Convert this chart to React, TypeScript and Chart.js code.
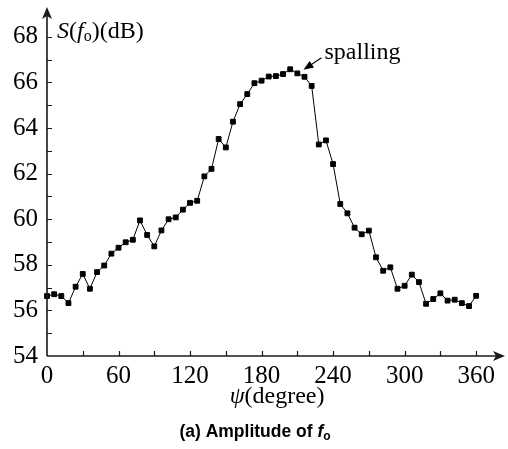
import React, { useEffect, useRef } from "react";
import { Chart, registerables } from "chart.js";

Chart.register(...registerables);

// ---- data ----
const angles = [
  0, 6, 12, 18, 24, 30, 36, 42, 48, 54, 60, 66, 72, 78, 84, 90, 96, 102, 108, 114,
  120, 126, 132, 138, 144, 150, 156, 162, 168, 174, 180, 186, 192, 198, 204, 210,
  216, 222, 228, 234, 240, 246, 252, 258, 264, 270, 276, 282, 288, 294, 300, 306,
  312, 318, 324, 330, 336, 342, 348, 354, 360,
];
const amplitude = [
  56.63, 56.71, 56.63, 56.32, 57.04, 57.6, 56.95, 57.68, 57.97, 58.49, 58.75, 58.99,
  59.1, 59.95, 59.31, 58.81, 59.51, 60.0, 60.08, 60.42, 60.72, 60.81, 61.88, 62.21,
  63.52, 63.15, 64.28, 65.05, 65.49, 65.97, 66.08, 66.26, 66.28, 66.37, 66.58, 66.4,
  66.25, 65.85, 63.28, 63.46, 62.42, 60.67, 60.26, 59.63, 59.34, 59.5, 58.33, 57.74,
  57.89, 56.95, 57.08, 57.57, 57.24, 56.29, 56.5, 56.75, 56.43, 56.47, 56.32, 56.19,
  56.64,
];
const xTickValues = [0, 60, 120, 180, 240, 300, 360];
const xMinorTicks = [30, 90, 150, 210, 270, 330];
const yTickValues = [54, 56, 58, 60, 62, 64, 66, 68];
const yMinorTicks = [55, 57, 59, 61, 63, 65, 67];
const annotationAngle = 216;
const annotationValue = 66.25;
const annotationText = "spalling";

const SERIF = "Liberation Serif";
const SANS = "Liberation Sans";

Chart.defaults.font.family = SERIF;

type Run = { text: string; font: string; dy?: number };

function drawRuns(ctx: CanvasRenderingContext2D, runs: Run[], x: number, y: number, align: "left" | "center") {
  let total = 0;
  for (const r of runs) {
    ctx.font = r.font;
    total += ctx.measureText(r.text).width;
  }
  let cx = align === "center" ? x - total / 2 : x;
  ctx.textBaseline = "alphabetic";
  ctx.textAlign = "left";
  for (const r of runs) {
    ctx.font = r.font;
    ctx.fillText(r.text, cx, y + (r.dy || 0));
    cx += ctx.measureText(r.text).width;
  }
}

const decorPlugin = {
  id: "decor",
  afterDraw(chart: any) {
    const ctx: CanvasRenderingContext2D = chart.ctx;
    const xs = chart.scales.x;
    const ys = chart.scales.y;
    const left = xs.getPixelForValue(0);
    const bottom = ys.getPixelForValue(54);
    const top = chart.chartArea.top;
    const right = chart.chartArea.right;
    ctx.save();
    const axisColor = "#1a1a1a";
    ctx.strokeStyle = axisColor;
    ctx.fillStyle = axisColor;
    ctx.lineWidth = 1.6;
    ctx.beginPath();
    ctx.moveTo(left, bottom);
    ctx.lineTo(left, top + 6);
    ctx.moveTo(left, bottom);
    ctx.lineTo(right - 2, bottom);
    ctx.stroke();
    ctx.beginPath();
    ctx.moveTo(left, top - 3);
    ctx.lineTo(left - 5, top + 9);
    ctx.lineTo(left, top + 6);
    ctx.lineTo(left + 5, top + 9);
    ctx.closePath();
    ctx.fill();
    ctx.beginPath();
    ctx.moveTo(right + 5, bottom);
    ctx.lineTo(right - 7, bottom - 5);
    ctx.lineTo(right - 4, bottom);
    ctx.lineTo(right - 7, bottom + 5);
    ctx.closePath();
    ctx.fill();
    ctx.lineWidth = 1.2;
    ctx.beginPath();
    for (const v of [...yTickValues, ...yMinorTicks]) {
      if (v === 54) continue;
      const p = Math.round(ys.getPixelForValue(v)) + 0.5;
      ctx.moveTo(left, p);
      ctx.lineTo(left + 5, p);
    }
    for (const v of [...xTickValues, ...xMinorTicks]) {
      if (v === 0) continue;
      const p = Math.round(xs.getPixelForValue(v)) + 0.5;
      ctx.moveTo(p, bottom);
      ctx.lineTo(p, bottom - 5);
    }
    ctx.stroke();

    ctx.fillStyle = "#000";
    const y68 = ys.getPixelForValue(68);
    drawRuns(
      ctx,
      [
        { text: "S", font: `italic 24px ${SERIF}` },
        { text: "(", font: `24px ${SERIF}` },
        { text: "f", font: `italic 24px ${SERIF}` },
        { text: "o", font: `16px ${SERIF}`, dy: 3 },
        { text: ")(dB)", font: `24px ${SERIF}` },
      ],
      left + 10,
      y68 + 1,
      "left"
    );
    drawRuns(
      ctx,
      [
        { text: "ψ", font: `italic 24px ${SERIF}` },
        { text: "(degree)", font: `24px ${SERIF}` },
      ],
      xs.getPixelForValue(193),
      403,
      "center"
    );
    drawRuns(
      ctx,
      [
        { text: "(a) Amplitude of ", font: `bold 17.5px ${SANS}` },
        { text: "f", font: `italic bold 17.5px ${SANS}` },
        { text: "o", font: `bold 12px ${SANS}`, dy: 3 },
      ],
      255,
      437,
      "center"
    );

    const px = xs.getPixelForValue(annotationAngle);
    const py = ys.getPixelForValue(annotationValue);
    const tipX = px - 1;
    const tipY = py - 7;
    const tailX = tipX + 18;
    const tailY = tipY - 12;
    ctx.strokeStyle = "#000";
    ctx.fillStyle = "#000";
    ctx.lineWidth = 1.2;
    ctx.beginPath();
    ctx.moveTo(tailX, tailY);
    ctx.lineTo(tipX + 6, tipY - 4);
    ctx.stroke();
    const ang = Math.atan2(tipY - tailY, tipX - tailX);
    const hl = 10, hw = 4;
    ctx.beginPath();
    ctx.moveTo(tipX, tipY);
    ctx.lineTo(tipX - hl * Math.cos(ang) + hw * Math.sin(ang), tipY - hl * Math.sin(ang) - hw * Math.cos(ang));
    ctx.lineTo(tipX - hl * Math.cos(ang) - hw * Math.sin(ang), tipY - hl * Math.sin(ang) + hw * Math.cos(ang));
    ctx.closePath();
    ctx.fill();
    ctx.font = `24px ${SERIF}`;
    ctx.textAlign = "left";
    ctx.textBaseline = "alphabetic";
    ctx.fillText(annotationText, tailX + 3, tailY + 1);
    ctx.restore();
  },
};

export default function App() {
  const ref = useRef<HTMLCanvasElement | null>(null);
  useEffect(() => {
    if (!ref.current) return;
    const points = angles.map((a, i) => ({ x: a, y: amplitude[i] }));
    const tickFont = { family: SERIF, size: 25 };
    const chart = new Chart(ref.current, {
      type: "line",
      data: {
        datasets: [
          {
            data: points,
            borderColor: "#000",
            borderWidth: 1,
            backgroundColor: "#000",
            pointStyle: "rect",
            pointRadius: 3.4,
            pointBorderWidth: 1,
            pointBorderColor: "#000",
            pointBackgroundColor: "#000",
            tension: 0,
            clip: false as any,
          },
        ],
      },
      options: {
        responsive: false,
        animation: false,
        devicePixelRatio: 1,
        layout: { padding: { top: 10, right: 8, left: 0, bottom: 0 } },
        plugins: { legend: { display: false }, tooltip: { enabled: false }, title: { display: false } },
        scales: {
          x: {
            type: "linear",
            min: 0,
            max: 380,
            grid: { display: false, drawTicks: false },
            border: { display: false },
            ticks: { font: tickFont, color: "#000", padding: 5, autoSkip: false, maxRotation: 0 },
            afterBuildTicks: (s: any) => {
              s.ticks = xTickValues.map((v) => ({ value: v }));
            },
            afterFit: (s: any) => {
              s.height = 93;
              s.paddingLeft = 0;
              s.paddingRight = 0;
            },
          },
          y: {
            type: "linear",
            min: 54,
            max: 69.18,
            grid: { display: false, drawTicks: false },
            border: { display: false },
            ticks: { font: tickFont, color: "#000", padding: 9, autoSkip: false },
            afterBuildTicks: (s: any) => {
              s.ticks = yTickValues.map((v) => ({ value: v }));
            },
            afterFit: (s: any) => {
              s.width = 47;
              s.paddingTop = 0;
              s.paddingBottom = 0;
            },
          },
        },
      },
      plugins: [decorPlugin],
    });
    return () => chart.destroy();
  }, []);
  return (
    <div style={{ position: "fixed", left: 0, top: 0, width: 508, height: 449, background: "#fff" }}>
      <canvas ref={ref} width={508} height={449} style={{ width: 508, height: 449 }} />
    </div>
  );
}
